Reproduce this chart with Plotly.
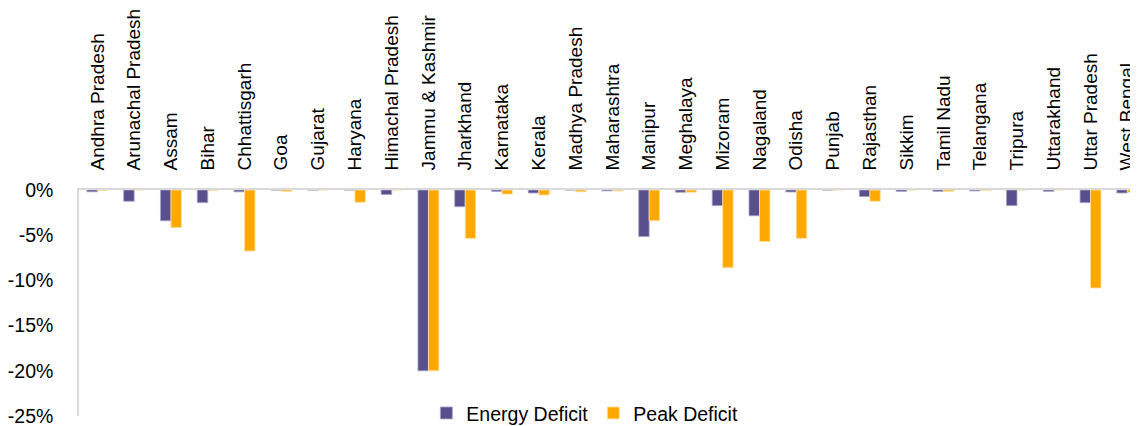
import plotly.graph_objects as go

states = ["Andhra Pradesh", "Arunachal Pradesh", "Assam", "Bihar", "Chhattisgarh", "Goa",
          "Gujarat", "Haryana", "Himachal Pradesh", "Jammu & Kashmir", "Jharkhand",
          "Karnataka", "Kerala", "Madhya Pradesh", "Maharashtra", "Manipur", "Meghalaya",
          "Mizoram", "Nagaland", "Odisha", "Punjab", "Rajasthan", "Sikkim", "Tamil Nadu",
          "Telangana", "Tripura", "Uttarakhand", "Uttar Pradesh", "West Bengal"]

energy_deficit = [-0.2, -1.25, -3.4, -1.4, -0.2, 0.0, 0.0, 0.0, -0.5, -20.0, -1.85,
                  -0.15, -0.33, 0.0, -0.1, -5.15, -0.25, -1.73, -2.85, -0.22, 0.0,
                  -0.73, -0.15, -0.15, -0.1, -1.73, -0.15, -1.4, -0.33]
peak_deficit = [-0.05, 0.0, -4.16, -0.05, -6.75, -0.15, 0.0, -1.36, 0.0, -20.0, -5.35,
                -0.45, -0.55, -0.2, -0.1, -3.4, -0.25, -8.6, -5.7, -5.35, 0.0,
                -1.25, 0.0, -0.15, -0.05, 0.0, 0.0, -10.84, -0.25]

y_ticks = [0, -5, -10, -15, -20, -25]
y_labels = ["0%", "-5%", "-10%", "-15%", "-20%", "-25%"]

FONT = "Liberation Sans, Arial, sans-serif"

fig = go.Figure()
fig.add_trace(go.Bar(name="Energy Deficit", x=states, y=energy_deficit,
                     marker=dict(color="#58508D", line=dict(color="#A8A3C8", width=0.8))))
fig.add_trace(go.Bar(name="Peak Deficit", x=states, y=peak_deficit,
                     marker=dict(color="#FFA800", line=dict(color="#FFE3A3", width=0.8))))

# page body has an 8px margin, so the figure is sized to fill the rest of the window
fig.update_layout(
    width=1130, height=418,
    margin=dict(l=70.6, r=0, t=182, b=10, autoexpand=False),
    paper_bgcolor="white", plot_bgcolor="white",
    barmode="group", bargap=0.43, bargroupgap=0.0,
    font=dict(family=FONT, size=19.5, color="black"),
    showlegend=True,
    legend=dict(orientation="h", x=0.328, xanchor="left", y=0.012, yanchor="middle",
                bgcolor="rgba(0,0,0,0)", font=dict(size=19.5), itemwidth=30,
                traceorder="normal"),
)
fig.update_xaxes(
    side="top", tickangle=-90, range=[-0.5, 28.29], automargin=False,
    showline=True, linecolor="#D9D9D9", linewidth=1.5, showgrid=False,
    ticks="", ticklabelstandoff=14, tickfont=dict(size=19),
    ticklabeloverflow="allow",
)
fig.update_yaxes(
    range=[-25, 0], tickvals=y_ticks, ticktext=y_labels, automargin=False,
    showline=True, linecolor="#D9D9D9", linewidth=1.5, showgrid=False,
    zeroline=False, ticks="", ticklabelstandoff=20, tickfont=dict(size=19.5),
    ticklabeloverflow="allow",
)

fig.write_html("out.html")
